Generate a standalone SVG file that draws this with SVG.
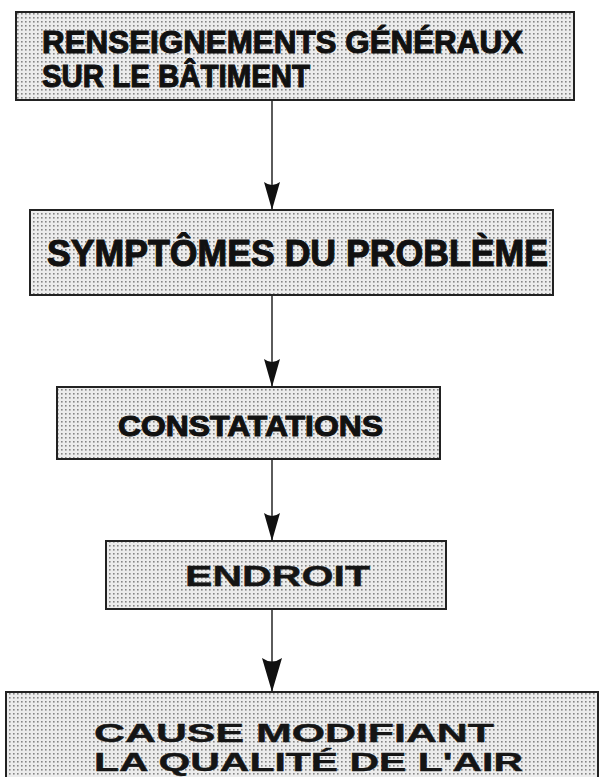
<svg xmlns="http://www.w3.org/2000/svg" width="600" height="777" viewBox="0 0 600 777">
<style>
.box{fill:url(#dots);stroke:#222;stroke-width:2}
.t{font-family:"Liberation Sans",Arial,sans-serif;font-weight:bold;fill:#111;stroke:#111;stroke-width:1.1}
.w{font-family:"Liberation Sans",Arial,sans-serif;font-weight:bold;fill:#151515;stroke:#151515;stroke-width:0.4}
.c{stroke:#333;stroke-width:1.6;fill:none}
</style>
<defs>
<pattern id="dots" width="4" height="4" patternUnits="userSpaceOnUse">
<rect width="4" height="4" fill="#ececec"/>
<rect x="1" y="1" width="1.6" height="1.6" fill="#858585"/>
</pattern>
<marker id="ah" markerUnits="userSpaceOnUse" markerWidth="28" markerHeight="18" viewBox="0 0 28 18" refX="28" refY="9" orient="auto">
<path d="M0,1 Q6,9 0,17 L28,9 Z" fill="#111"/>
</marker>
<marker id="ahL" markerUnits="userSpaceOnUse" markerWidth="34" markerHeight="22" viewBox="0 0 34 22" refX="34" refY="11" orient="auto">
<path d="M0,1 Q7,11 0,21 L34,11 Z" fill="#111"/>
</marker>
</defs>
<rect width="600" height="777" fill="#ffffff"/>
<g id="connectors">
<line class="c" x1="272" y1="100" x2="272" y2="210" marker-end="url(#ah)"/>
<line class="c" x1="272" y1="295" x2="272" y2="387" marker-end="url(#ah)"/>
<line class="c" x1="272" y1="459" x2="272" y2="541" marker-end="url(#ah)"/>
<line class="c" x1="272" y1="609" x2="272" y2="692" marker-end="url(#ahL)"/>
</g>
<g id="n1">
<rect class="box" x="16" y="12" width="558" height="88"/>
<text class="t" x="42" y="53" font-size="31" textLength="481" lengthAdjust="spacingAndGlyphs">RENSEIGNEMENTS GÉNÉRAUX</text>
<text class="t" x="42" y="87" font-size="31" textLength="268" lengthAdjust="spacingAndGlyphs">SUR LE BÂTIMENT</text>
</g>
<g id="n2">
<rect class="box" x="30" y="210" width="523" height="85"/>
<text class="t" x="47" y="266" font-size="36" textLength="501" lengthAdjust="spacingAndGlyphs">SYMPTÔMES DU PROBLÈME</text>
</g>
<g id="n3">
<rect class="box" x="57" y="387" width="383" height="72"/>
<text class="t" x="118" y="436" font-size="30" textLength="265" lengthAdjust="spacingAndGlyphs">CONSTATATIONS</text>
</g>
<g id="n4">
<rect class="box" x="106" y="541" width="340" height="68"/>
<text class="w" x="185" y="586" font-size="29" textLength="185" lengthAdjust="spacingAndGlyphs">ENDROIT</text>
</g>
<g id="n5">
<rect class="box" x="6" y="692" width="592" height="95"/>
<text class="w" x="94" y="742" font-size="25" textLength="400" lengthAdjust="spacingAndGlyphs">CAUSE MODIFIANT</text>
<text class="w" x="94" y="771" font-size="25" textLength="429" lengthAdjust="spacingAndGlyphs">LA QUALITÉ DE L'AIR</text>
</g>
</svg>
